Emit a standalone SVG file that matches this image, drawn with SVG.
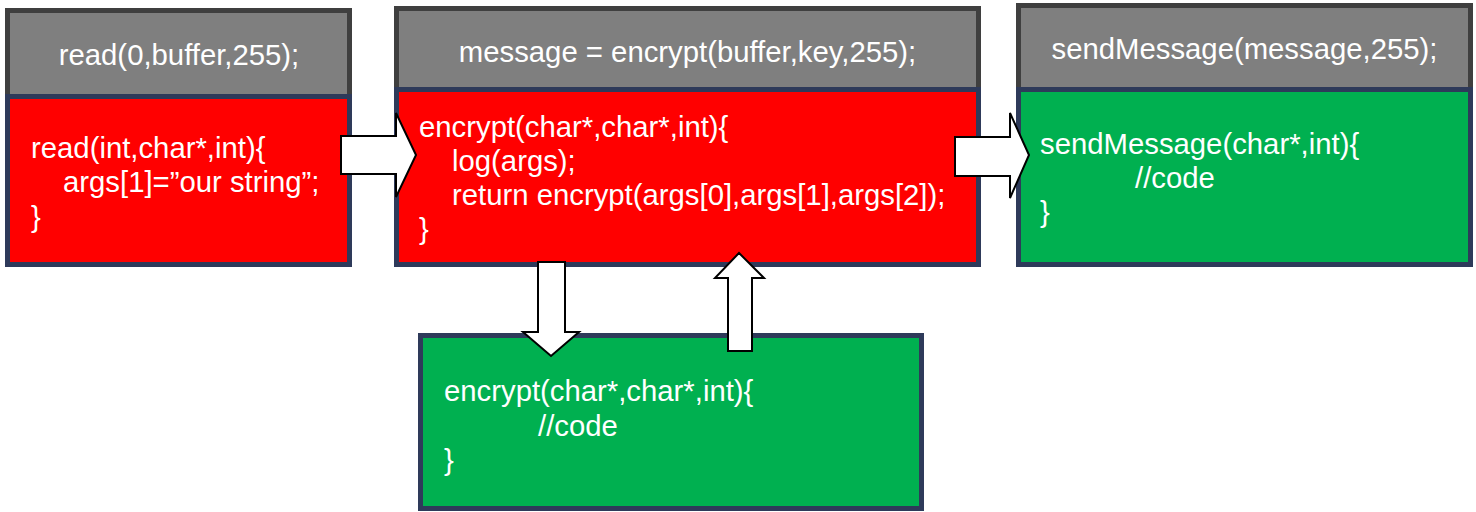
<svg xmlns="http://www.w3.org/2000/svg" width="1476" height="512" viewBox="0 0 1476 512">
  <style>
    .head { fill: #7F7F7F; stroke: #3F3F3F; stroke-width: 5; }
    .red { fill: #FF0000; stroke: #2E3A5A; stroke-width: 5; }
    .green { fill: #00B050; stroke: #2E3A5A; stroke-width: 5; }
    .arrow { fill: #FFFFFF; stroke: #000000; stroke-width: 2; stroke-linejoin: miter; }
    text { font-family: "Liberation Sans", Arial, sans-serif; font-size: 29.3px; fill: #FFFFFF; }
    .title { text-anchor: middle; }
  </style>

  <!-- caller: read -->
  <g id="read-call">
    <rect class="head" x="7.5" y="10.5" width="342" height="86"/>
    <text class="title" x="179" y="65">read(0,buffer,255);</text>
  </g>
  <g id="read-hook">
    <rect class="red" x="7.5" y="96.5" width="342" height="168"/>
    <text x="31" y="158">read(int,char*,int){</text>
    <text x="63" y="192">args[1]=”our string”;</text>
    <text x="31" y="226.5">}</text>
  </g>

  <!-- caller: encrypt -->
  <g id="encrypt-call">
    <rect class="head" x="396.5" y="8.5" width="582" height="82"/>
    <text class="title" x="687.5" y="62">message = encrypt(buffer,key,255);</text>
  </g>
  <g id="encrypt-hook">
    <rect class="red" x="396.5" y="89.5" width="582" height="175"/>
    <text x="419" y="137">encrypt(char*,char*,int){</text>
    <text x="452" y="171">log(args);</text>
    <text x="452" y="205">return encrypt(args[0],args[1],args[2]);</text>
    <text x="419" y="239">}</text>
  </g>

  <!-- caller: sendMessage -->
  <g id="send-call">
    <rect class="head" x="1018.5" y="5.5" width="452" height="85"/>
    <text class="title" x="1244.5" y="59">sendMessage(message,255);</text>
  </g>
  <g id="send-impl">
    <rect class="green" x="1018.5" y="89.5" width="452" height="175"/>
    <text x="1040" y="154">sendMessage(char*,int){</text>
    <text x="1135" y="188">//code</text>
    <text x="1040" y="222">}</text>
  </g>

  <!-- original encrypt -->
  <g id="encrypt-impl">
    <rect class="green" x="420.5" y="335.5" width="501" height="173"/>
    <text x="444" y="401">encrypt(char*,char*,int){</text>
    <text x="538" y="435.5">//code</text>
    <text x="444" y="470">}</text>
  </g>

  <!-- block arrows -->
  <g id="connectors">
    <polygon class="arrow" points="341,136 396,136 396,113 416,155 396,197 396,174 341,174"/>
    <polygon class="arrow" points="955,137 1010,137 1010,113 1029,155 1010,198 1010,176 955,176"/>
    <polygon class="arrow" points="538,262 565,262 565,332 579,332 551,356 523,332 538,332"/>
    <polygon class="arrow" points="739,253 764,278 752,278 752,351 728,351 728,278 715,278"/>
  </g>
</svg>
